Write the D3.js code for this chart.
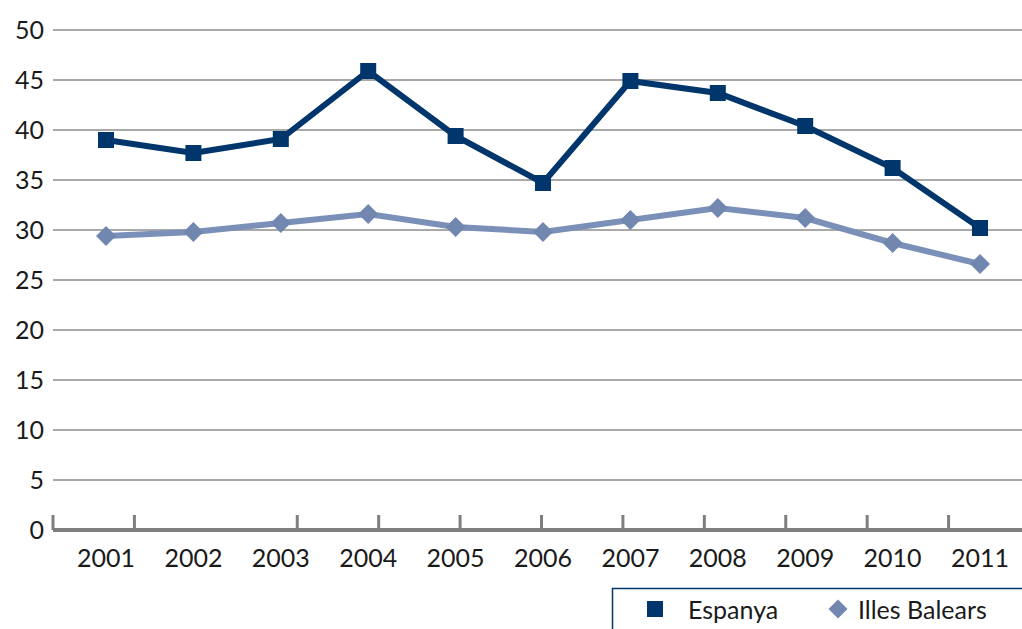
<!DOCTYPE html>
<html><head><meta charset="utf-8">
<script src="https://cdn.jsdelivr.net/npm/d3@7"></script>
<style>body{margin:0;background:#fff}text{font-family:Lato,sans-serif;fill:#1a1a1a}</style>
</head><body>
<script>
var years = ['2001','2002','2003','2004','2005','2006','2007','2008','2009','2010','2011'];
var espanya = [39.0, 37.7, 39.1, 45.9, 39.4, 34.7, 44.9, 43.7, 40.4, 36.2, 30.2];
var balears = [29.4, 29.8, 30.7, 31.6, 30.3, 29.8, 31.0, 32.2, 31.2, 28.7, 26.6];
var yTicks = [0, 5, 10, 15, 20, 25, 30, 35, 40, 45, 50];

var W = 1022, H = 629;
var svg = d3.select('body').append('svg').attr('width', W).attr('height', H);

var x = d3.scalePoint().domain(years).range([106, 980]);
var y = d3.scaleLinear().domain([0, 50]).range([530, 30]);
// category boundaries for axis ticks
var xb = d3.scaleLinear().domain([0, 12]).range([53, 1030]);

// gridlines
svg.selectAll('.grid').data(yTicks.slice(1)).enter().append('line')
	.attr('x1', 53).attr('x2', W).attr('y1', function(d) { return y(d); }).attr('y2', function(d) { return y(d); })
	.attr('stroke', '#8c8c8c').attr('stroke-width', 1.5);

svg.selectAll('.ylab').data(yTicks).enter().append('text')
	.attr('x', 44).attr('y', function(d) { return y(d) + 9; })
	.attr('text-anchor', 'end').style('font-size', '25px')
	.text(function(d) { return d; });

// x axis
svg.append('line').attr('x1', 53).attr('x2', W).attr('y1', 530).attr('y2', 530)
	.attr('stroke', '#7f7f7f').attr('stroke-width', 4);
var tickIdx = d3.range(0, 12).filter(function(i) { return i !== 2; });
svg.selectAll('.xt').data(tickIdx).enter().append('line')
	.attr('x1', function(i) { return xb(i); }).attr('x2', function(i) { return xb(i); })
	.attr('y1', 515).attr('y2', 530).attr('stroke', '#7f7f7f').attr('stroke-width', 3);
svg.selectAll('.xlab').data(years).enter().append('text')
	.attr('x', function(d) { return x(d); }).attr('y', 567)
	.attr('text-anchor', 'middle').style('font-size', '25px')
	.text(function(d) { return d; });

var line = d3.line().x(function(d, i) { return x(years[i]); }).y(function(d) { return y(d); });
var diamond = d3.symbol(d3.symbolSquare, 200)();

svg.append('path').datum(balears).attr('d', line).attr('fill', 'none')
	.attr('stroke', '#7b90b8').attr('stroke-width', 6);
svg.selectAll('.bm').data(balears).enter().append('path')
	.attr('d', diamond)
	.attr('transform', function(d, i) { return 'translate(' + x(years[i]) + ',' + y(d) + ') rotate(45)'; })
	.attr('fill', '#7187b0');

svg.append('path').datum(espanya).attr('d', line).attr('fill', 'none')
	.attr('stroke', '#00366b').attr('stroke-width', 6);
svg.selectAll('.em').data(espanya).enter().append('rect')
	.attr('x', function(d, i) { return x(years[i]) - 8; }).attr('y', function(d) { return y(d) - 8; })
	.attr('width', 16).attr('height', 16).attr('fill', '#00366b');

// legend
var lg = svg.append('g');
lg.append('rect').attr('x', 612.5).attr('y', 588.5).attr('width', 420).attr('height', 60)
	.attr('fill', '#fff').attr('stroke', '#00366b').attr('stroke-width', 1.5);
lg.append('rect').attr('x', 647).attr('y', 601).attr('width', 16).attr('height', 16).attr('fill', '#00366b');
lg.append('text').attr('x', 688).attr('y', 619).style('font-size', '25px').text('Espanya');
lg.append('path').attr('d', d3.symbol(d3.symbolSquare, 180)())
	.attr('transform', 'translate(838,609) rotate(45)').attr('fill', '#7187b0');
lg.append('text').attr('x', 858).attr('y', 619).style('font-size', '25px').text('Illes Balears');
</script>
</body></html>
